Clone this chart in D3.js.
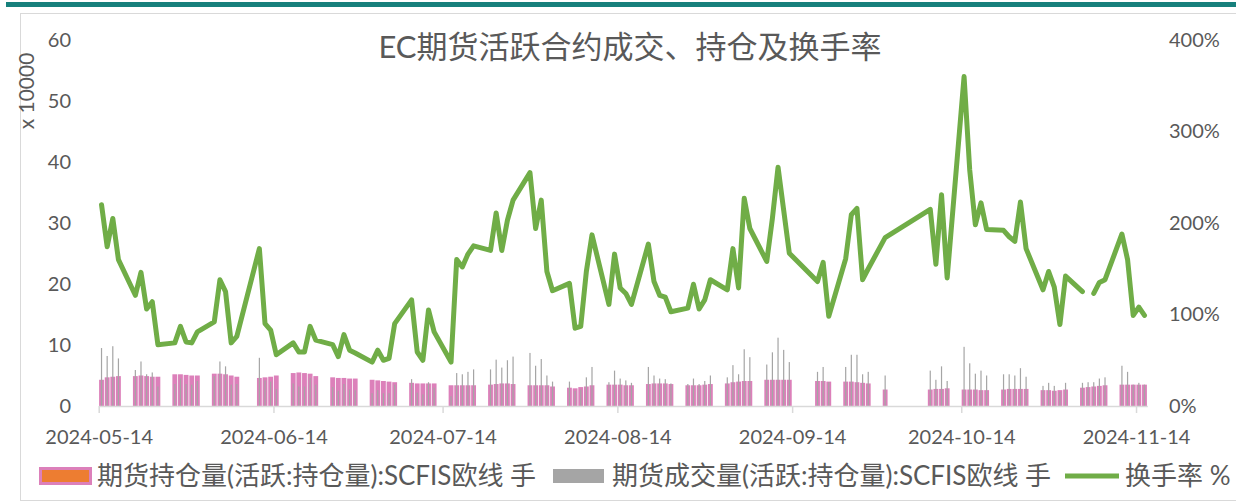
<!DOCTYPE html>
<html>
<head>
<meta charset="utf-8">
<script src="https://cdn.jsdelivr.net/npm/d3@7"></script>
<style>
  body { margin: 0; background: #fff; }
  svg text { font-family: "Lato", "Noto Sans CJK SC", sans-serif; fill: #595959; }
</style>
</head>
<body>
<div id="chart"></div>
<script>
// trading days shown on the chart
const dates = [
  "2024-05-14","2024-05-15","2024-05-16","2024-05-17",
  "2024-05-20","2024-05-21","2024-05-22","2024-05-23","2024-05-24",
  "2024-05-27","2024-05-28","2024-05-29","2024-05-30","2024-05-31",
  "2024-06-03","2024-06-04","2024-06-05","2024-06-06","2024-06-07",
  "2024-06-11","2024-06-12","2024-06-13","2024-06-14",
  "2024-06-17","2024-06-18","2024-06-19","2024-06-20","2024-06-21",
  "2024-06-24","2024-06-25","2024-06-26","2024-06-27","2024-06-28",
  "2024-07-01","2024-07-02","2024-07-03","2024-07-04","2024-07-05",
  "2024-07-08","2024-07-09","2024-07-10","2024-07-11","2024-07-12",
  "2024-07-15","2024-07-16","2024-07-17","2024-07-18","2024-07-19",
  "2024-07-22","2024-07-23","2024-07-24","2024-07-25","2024-07-26",
  "2024-07-29","2024-07-30","2024-07-31","2024-08-01","2024-08-02",
  "2024-08-05","2024-08-06","2024-08-07","2024-08-08","2024-08-09",
  "2024-08-12","2024-08-13","2024-08-14","2024-08-15","2024-08-16",
  "2024-08-19","2024-08-20","2024-08-21","2024-08-22","2024-08-23",
  "2024-08-26","2024-08-27","2024-08-28","2024-08-29","2024-08-30",
  "2024-09-02","2024-09-03","2024-09-04","2024-09-05","2024-09-06",
  "2024-09-09","2024-09-10","2024-09-11","2024-09-12","2024-09-13",
  "2024-09-18","2024-09-19","2024-09-20",
  "2024-09-23","2024-09-24","2024-09-25","2024-09-26","2024-09-27",
  "2024-09-30",
  "2024-10-08","2024-10-09","2024-10-10","2024-10-11",
  "2024-10-14","2024-10-15","2024-10-16","2024-10-17","2024-10-18",
  "2024-10-21","2024-10-22","2024-10-23","2024-10-24","2024-10-25",
  "2024-10-28","2024-10-29","2024-10-30","2024-10-31","2024-11-01",
  "2024-11-04","2024-11-05","2024-11-06","2024-11-07","2024-11-08",
  "2024-11-11","2024-11-12","2024-11-13","2024-11-14","2024-11-15"
];

// open interest, x 10000 lots
const openInterest = [
  4.3,4.7,4.8,4.9,
  4.9,5.0,4.9,4.8,4.8,
  5.2,5.2,5.1,5.0,5.0,
  5.3,5.3,5.2,5.0,4.8,
  4.6,4.7,4.8,5.0,
  5.4,5.5,5.4,5.3,4.9,
  4.7,4.6,4.6,4.5,4.5,
  4.3,4.2,4.1,4.0,3.9,
  3.8,3.7,3.7,3.7,3.7,
  3.4,3.4,3.4,3.4,3.4,
  3.5,3.6,3.7,3.7,3.6,
  3.4,3.4,3.4,3.4,3.2,
  3.0,2.9,3.1,3.2,3.4,
  3.5,3.5,3.5,3.4,3.4,
  3.6,3.7,3.7,3.7,3.6,
  3.4,3.4,3.4,3.5,3.6,
  3.7,3.9,4.0,4.1,4.1,
  4.3,4.3,4.3,4.3,4.3,
  4.1,4.1,4.0,
  4.0,4.0,3.9,3.8,3.7,
  2.7,
  2.7,2.8,2.8,2.9,
  2.7,2.7,2.7,2.6,2.6,
  2.7,2.8,2.8,2.8,2.8,
  2.6,2.6,2.5,2.6,2.7,
  3.0,3.1,3.2,3.3,3.4,
  3.5,3.5,3.5,3.5,3.5
];

// volume, x 10000 lots
const volume = [
  9.5,8.2,9.8,7.8,
  5.9,7.3,5.2,5.5,3.2,
  3.6,4.5,3.6,3.5,4.1,
  4.9,7.3,6.5,3.5,3.6,
  7.9,4.2,4.0,2.8,
  3.7,3.2,3.2,4.6,3.5,
  3.1,2.5,3.6,2.7,2.6,
  2.1,2.6,2.1,2.1,3.5,
  4.4,2.2,1.9,3.9,3.0,
  1.6,5.4,5.2,5.6,6.0,
  6.0,7.6,6.3,7.5,8.1,
  8.7,6.6,7.7,5.0,4.0,
  4.0,2.5,2.7,4.7,6.4,
  3.9,5.8,4.5,4.2,3.8,
  6.4,5.0,4.5,4.4,3.7,
  3.6,4.5,3.6,4.1,5.0,
  4.7,6.7,5.2,9.3,8.0,
  6.8,8.8,11.2,9.2,7.2,
  5.6,6.4,3.9,
  6.4,8.4,8.4,5.2,5.6,
  5.0,
  5.8,4.3,6.5,4.1,
  9.7,7.0,5.3,5.8,5.0,
  5.2,5.2,5.0,6.2,4.8,
  3.3,3.8,3.3,2.3,3.8,
  3.8,3.9,3.9,4.5,4.7,
  6.6,5.6,3.5,3.8,3.5
];

// turnover rate, %
const turnover = [
  220,174,205,160,
  121,146,106,114,67,
  69,87,70,69,81,
  92,138,125,69,76,
  172,90,83,56,
  69,59,59,87,72,
  67,54,78,61,58,
  48,61,50,52,90,
  116,59,50,105,81,
  48,160,152,166,175,
  170,211,170,203,225,
  255,194,225,147,126,
  134,85,87,147,187,
  111,166,129,123,111,
  177,136,121,119,103,
  107,133,106,116,138,
  127,172,129,227,194,
  158,205,261,214,167,
  136,157,98,
  161,209,216,138,150,
  184,
  215,155,231,140,
  360,258,198,222,193,
  192,185,180,223,172,
  127,147,130,89,142,
  125,null,123,135,138,
  188,160,99,108,99
];

const xTicks = ["2024-05-14","2024-06-14","2024-07-14","2024-08-14","2024-09-14","2024-10-14","2024-11-14"];
const leftTicks = [0, 10, 20, 30, 40, 50, 60];
const rightTicks = [0, 100, 200, 300, 400];
const seriesNames = ["期货持仓量(活跃:持仓量):SCFIS欧线 手", "期货成交量(活跃:持仓量):SCFIS欧线 手", "换手率 %"];
const chartTitle = "EC期货活跃合约成交、持仓及换手率";
const unitLabel = "x 10000";

const pink = '#DC80BA', orange = '#ED7D31', gray = '#A5A5A5', green = '#70AD47';

const parse = d3.timeParse('%Y-%m-%d');
const rows = dates.map((d, i) => ({
  day: parse(d),
  oi: openInterest[i],
  vol: volume[i],
  rate: turnover[i]
}));

const svg = d3.select('#chart')
  .append('svg')
  .attr('width', 1236)
  .attr('height', 502);

// teal band on top and the light frame
svg.append('rect')
  .attr('x', 6).attr('y', 2).attr('width', 1230).attr('height', 5)
  .attr('fill', '#17807C');
svg.append('rect')
  .attr('x', 20.5).attr('y', 13.5).attr('width', 1230).attr('height', 487)
  .attr('fill', 'none').attr('stroke', '#D9D9D9');

// scales: each day gets a slot from 00:00 to next 00:00
const x = d3.scaleTime()
  .domain([parse('2024-05-14'), parse('2024-11-16')])
  .range([98.7, 1147.3]);
const yLeft = d3.scaleLinear().domain([0, 60]).range([406, 40]);
const yRight = d3.scaleLinear().domain([0, 400]).range([406, 40]);

const slotStart = d => x(d.day);
const slotWidth = d => x(d3.timeDay.offset(d.day, 1)) - x(d.day);
const slotMid = d => slotStart(d) + slotWidth(d) / 2;

// open interest bars
svg.append('g')
  .selectAll('rect')
  .data(rows)
  .enter()
  .append('rect')
  .attr('x', d => slotStart(d) + 0.4)
  .attr('width', d => slotWidth(d) - 0.8)
  .attr('y', d => yLeft(d.oi))
  .attr('height', d => yLeft(0) - yLeft(d.oi))
  .attr('fill', pink);

// volume bars, thin, drawn on top
svg.append('g')
  .selectAll('rect')
  .data(rows)
  .enter()
  .append('rect')
  .attr('x', d => slotMid(d) - 0.6)
  .attr('width', 1.2)
  .attr('y', d => yLeft(d.vol))
  .attr('height', d => yLeft(0) - yLeft(d.vol))
  .attr('fill', gray);

// x axis
const xAxis = d3.axisBottom(x)
  .tickValues(xTicks.map(parse))
  .tickFormat(d3.timeFormat('%Y-%m-%d'))
  .tickSizeInner(7)
  .tickSizeOuter(0)
  .tickPadding(17);
const gx = svg.append('g')
  .attr('transform', 'translate(0,406)')
  .call(xAxis);
gx.select('.domain').attr('stroke', '#D9D9D9').attr('stroke-width', 1.5);
gx.selectAll('.tick line').attr('stroke', '#D9D9D9').attr('stroke-width', 1.5);
gx.selectAll('.tick text').style('font-size', '20px');

// turnover line
const rateLine = d3.line()
  .defined(d => d.rate != null)
  .x(d => slotMid(d))
  .y(d => yRight(d.rate));
svg.append('path')
  .datum(rows)
  .attr('d', rateLine)
  .attr('fill', 'none')
  .attr('stroke', green)
  .attr('stroke-width', 5)
  .attr('stroke-linejoin', 'round')
  .attr('stroke-linecap', 'round');

// left axis
const gl = svg.append('g')
  .attr('transform', 'translate(71,0)')
  .call(d3.axisLeft(yLeft).tickValues(leftTicks).tickSize(0).tickPadding(0));
gl.select('.domain').remove();
gl.selectAll('.tick text').style('font-size', '20px');

// right axis
const gr = svg.append('g')
  .attr('transform', 'translate(1169,0)')
  .call(d3.axisRight(yRight).tickValues(rightTicks).tickFormat(d => d + '%').tickSize(0).tickPadding(0));
gr.select('.domain').remove();
gr.selectAll('.tick text').style('font-size', '20px');

// unit label
svg.append('text')
  .attr('transform', 'translate(27,91) rotate(-90)')
  .attr('text-anchor', 'middle')
  .attr('dy', '0.35em')
  .style('font-size', '21px')
  .text(unitLabel);

// title
svg.append('text')
  .attr('x', 630)
  .attr('y', 47)
  .attr('text-anchor', 'middle')
  .attr('dy', '0.35em')
  .style('font-size', '31px')
  .text(chartTitle);

// legend
const legendY = 476;
svg.append('rect')
  .attr('x', 40.5).attr('y', legendY - 7.5).attr('width', 50).attr('height', 15)
  .attr('fill', orange).attr('stroke', pink).attr('stroke-width', 3);
svg.append('rect')
  .attr('x', 553).attr('y', legendY - 7).attr('width', 51).attr('height', 14)
  .attr('fill', gray);
svg.append('line')
  .attr('x1', 1065).attr('x2', 1119).attr('y1', legendY).attr('y2', legendY)
  .attr('stroke', green).attr('stroke-width', 5);

const legendTextX = [97, 612, 1125];
svg.append('g')
  .selectAll('text')
  .data(seriesNames)
  .enter()
  .append('text')
  .attr('x', (d, i) => legendTextX[i])
  .attr('y', legendY)
  .attr('dy', '0.35em')
  .style('font-size', '26px')
  .text(d => d);
</script>
</body>
</html>
